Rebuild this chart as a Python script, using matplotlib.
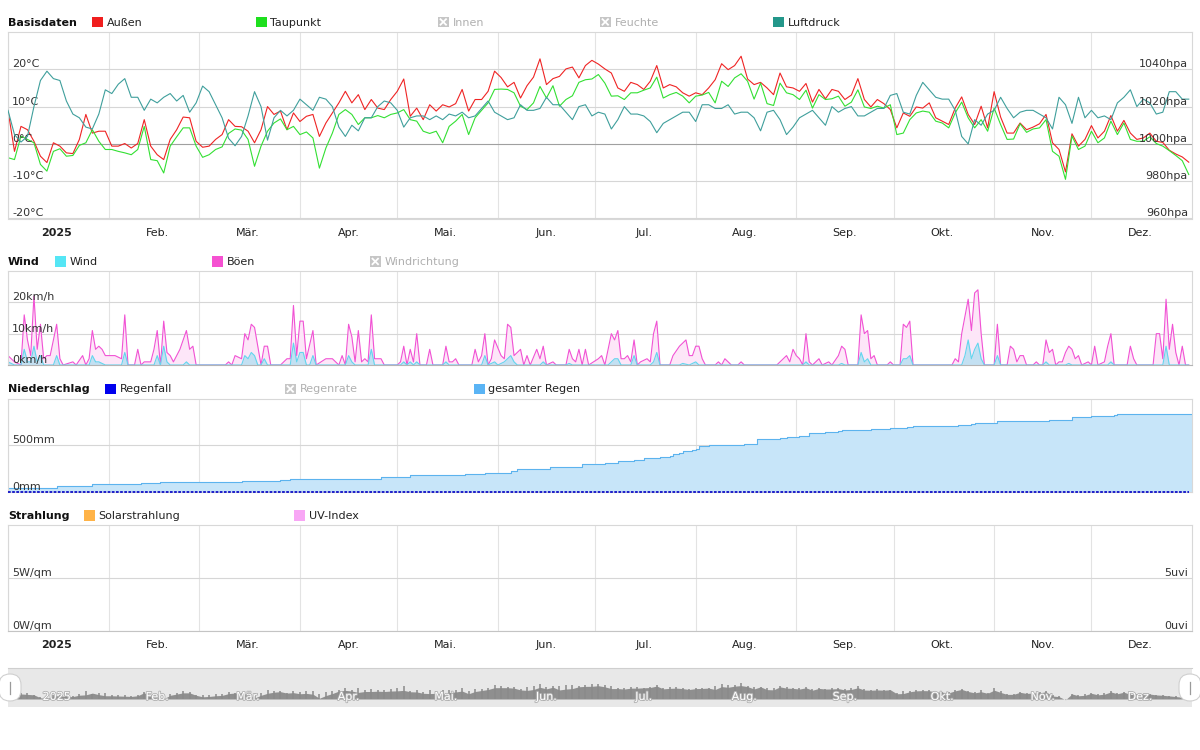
import numpy as np
import matplotlib.pyplot as plt
import matplotlib.transforms as mtransforms
import matplotlib.patheffects as pe
from matplotlib.patches import Rectangle, FancyBboxPatch

W, H = 1200, 750
plt.rcParams['font.family'] = 'DejaVu Sans'

# --- Wetterdaten 2025, x = Tag im Jahr (0 = 1. Jan.), ein Wert je 2 Tage ---
tage = np.arange(0, 365, 2)

aussen = [9, -2, 4.7, 3.8, 0.7, -3.3, -5, 0.3, -0.6, -2.4, -2.6, 1.2, 7.9, 2.9, 3.4, 3.4, -0.6, -0.6, 0.1, -1.1,
          0.1, 6.5, -0.6, -2.9, -4.2, 1.2, 3.8, 7.2, 7, 0.7, -0.9, -0.6, 1.2, 2.5, 6.5, 4.7, 4.6, 3.4, 0.3, 3.8,
          10, 7.9, 8.8, 3.8, 8.3, 6, 7.4, 7.9, 2, 5.6, 8.3, 11, 14.1, 11, 13.2, 9.2, 11.9, 9.6, 9.2, 11.9, 14.1,
          17.4, 7.4, 9.6, 6.5, 10.5, 8.8, 10.5, 9.9, 10.8, 14.6, 8.8, 11.9, 11.9, 14.1, 19.5, 17.8, 15.3, 16.5, 12.3, 15.6,
          17.9, 22.8, 15.9, 17.5, 18.1, 20.1, 20.6, 17.7, 21, 22.4, 21.4, 20.1, 19, 15, 14.1, 16.5, 15.9, 14.6, 16.8, 21,
          15, 15.9, 15.3, 13.7, 12.8, 13.7, 13.2, 15, 17.2, 21.5, 19.9, 21, 23.5, 17.4, 15.9, 16.5, 15, 13.2, 19, 15.3,
          15, 14.1,
          16.2, 11.2, 14.6, 12.1, 14.6, 14.1, 11.9, 13.1, 17.5, 11.9, 9.9, 11.9, 10.8, 9.2, 4.3, 8.3, 7.4, 9.9, 9.6, 11,
          7, 6.1, 5.2, 9.6, 12.6, 7.9, 5.2, 10.1, 4.3, 14, 7.2, 2.9, 2.9, 5.6, 3.8, 4.5, 5.4, 7.9, 0.3, -1.5,
          -7.5, 2.7, -0.6, 1.2, 4.9, 1.6, 3.4, 7.6, 3.4, 6.3, 2.9, 1.2, 1.6, 2.9, 0.7, 0.4, -1.7, -2.7, -3.5, -4.9]

taupunkt = [-3.7, -4.2, 2.1, 1.2, 0.3, -5.5, -7.3, -2, -1.3, -3.3, -3.1, -0.4, 0.3, 3.8, 0.7, -1.5, -1.5, -2, -2.4, -2.9,
            -1.5, 4.7, -4.2, -4.5, -7.8, -0.6, 1.9, 4.3, 4.3, -0.6, -3.6, -2.9, -1.5, -0.8, 2.8, 4, 3.7, 1.2, -6, -0.6,
            3.4, 5.6, 6.7, 3.8, 4.7, 2.5, 3.2, 1.6, -6.5, -1.1, 2.9, 7.9, 9.2, 7.9, 5.2, 7, 7, 7.6, 7, 7.9, 8.3,
            9.2, 6.5, 6.1, 3.4, 2.8, 3.4, 0.3, 4.7, 6.1, 7.9, 2.5, 7, 9, 11, 14.6, 14.7, 14.6, 13.7, 10.1, 9.2,
            11, 15.4, 12.3, 15.6, 10.1, 11.9, 12.9, 16.5, 17.2, 17.4, 18.6, 16.3, 12.8, 12.9, 11.9, 13.7, 13.7, 14.4, 15, 17.9,
            12.3, 13.2, 13.8, 12.8, 11, 12.8, 13.1, 13.8, 11, 16.8, 15.4, 17.7, 18.8, 16.8, 12, 16.3, 10.8, 10.3, 16.3, 13.7,
            13.2, 11.9,
            14.4, 9.6, 13.2, 11.9, 12.1, 12.8, 10.1, 11.2, 14.5, 9.9, 9.5, 10.1, 9.6, 10.5, 2.5, 2.9, 6.5, 8.3, 8.8, 8.5,
            6.1, 5.6, 4.3, 8.3, 11.2, 7, 4.3, 6.5, 3.4, 9.6, 5.2, 1.2, 1.3, 5.4, 3.1, 4, 4.3, 6.5, -2, -3.3,
            -9.5, 2.1, -1.5, -0.6, 3.4, 0.3, 1.6, 6.1, 2.5, 5.6, 1.2, 0.7, 0.7, 1.9, 0.1, -0.6, -1.8, -3.1, -4.5, -8.2]

luftdruck = [1018, 1005, 1001, 1004, 1020, 1034, 1039, 1035, 1034, 1023, 1016, 1014, 1009, 1008, 1016, 1029, 1027, 1032, 1035, 1025,
             1025, 1018, 1024, 1022, 1025, 1027, 1023, 1026, 1017, 1022, 1031, 1028, 1021, 1014, 1003, 999, 1004, 1015, 1028, 1020,
             1002, 1014, 1018, 1015, 1018, 1024, 1021, 1018, 1025, 1024, 1020, 1009, 1004, 1010, 1007, 1014, 1014, 1020, 1023, 1022, 1018,
             1009, 1014, 1015, 1015, 1013, 1015, 1013, 1016, 1015, 1017, 1014, 1015, 1019, 1023, 1017, 1015, 1013, 1014, 1021, 1018,
             1018, 1019, 1025, 1021, 1021, 1017, 1013, 1020, 1021, 1015, 1017, 1016, 1008, 1013, 1020, 1016, 1016, 1015, 1012, 1006,
             1011, 1013, 1015, 1017, 1017, 1012, 1021, 1021, 1019, 1019, 1021, 1016, 1017, 1017, 1014, 1007, 1017, 1018, 1013, 1005,
             1009, 1014,
             1016, 1018, 1014, 1010, 1020, 1017, 1019, 1020, 1015, 1015, 1017, 1019, 1019, 1026, 1027, 1017, 1016, 1026, 1033, 1029,
             1025, 1024, 1024, 1018, 1004, 1000, 1013, 1010, 1016, 1018, 1025, 1019, 1014, 1017, 1018, 1018, 1016, 1014, 1008, 1025,
             1021, 1011, 1025, 1014, 1018, 1014, 1015, 1013, 1022, 1025, 1029, 1020, 1024, 1022, 1016, 1017, 1028, 1028, 1024, 1024]

boeen_tag = [0, 2, 4, 5, 6, 7, 8, 9, 10, 11, 12, 13, 15, 16, 17, 20, 21, 23, 24, 25, 26, 27, 28, 29, 30, 32, 33, 35, 36, 37,
             39, 40, 41, 42, 44, 45, 46, 47, 48, 49, 50, 51, 52, 53, 55, 56, 57, 58, 67, 68, 69, 70, 72, 73, 74, 75, 76, 78, 79, 80,
             81, 84, 86, 87, 88, 89, 90, 91, 92, 94, 95, 98, 100, 102, 103, 104, 105, 106, 107, 108, 109, 110, 111, 112, 113, 115, 116, 120,
             121, 122, 123, 124, 125, 126, 127, 129, 130, 131, 134, 135, 136, 137, 138, 139, 143, 144, 145, 146,
             147, 148, 149, 150, 152, 153, 154, 155, 156, 158, 159, 160, 161, 163, 164, 165, 166, 168, 169, 172,
             173, 174, 175, 176, 177, 178, 179, 182, 183, 184, 186, 187, 188, 189, 190, 191, 192, 193, 194, 195,
             197, 198, 199, 200, 201, 204, 205, 207, 209, 210, 211, 212, 213, 214, 215, 218, 219, 220, 221, 222,
             223, 225, 226, 227, 237, 238, 240, 241, 242, 243,
             244, 245, 246, 247, 248, 250, 251, 253, 254, 256, 257, 258, 259, 262, 263, 264, 265, 266, 267, 268,
             271, 272, 273, 275, 276, 277, 278, 279, 291, 292, 293, 294, 296, 297, 298, 299, 300, 301, 304, 305,
             306, 308, 309, 310, 311, 312, 313, 314, 316, 317, 318, 319, 320, 321, 322, 323, 324, 325, 326, 327,
             328, 329, 330, 331, 333, 334, 335, 336, 338, 339, 340, 341, 345, 346, 347, 348, 353, 354, 355, 356,
             357, 358, 359, 360, 361, 362, 363, 364]
boeen = [3, 1, 0, 16, 8, 3, 22, 5, 13, 2, 3, 3, 13, 2, 0, 1, 0, 3, 0, 2, 11, 5, 6, 5, 3, 3, 3, 2, 16, 0,
         0, 5, 0, 1, 1, 5, 11, 0, 14, 4, 3, 1, 3, 5, 11, 5, 6, 0, 0, 1, 0, 3, 2, 10, 8, 13, 12, 0, 6, 6,
         0, 0, 2, 2, 19, 3, 14, 14, 2, 11, 0, 2, 2, 0, 3, 0, 13, 9, 1, 11, 1, 2, 1, 16, 2, 2, 0, 0,
         1, 6, 0, 5, 1, 10, 0, 0, 5, 0, 0, 6, 1, 1, 2, 0, 0, 5, 1, 3,
         10, 0, 2, 8, 3, 2, 13, 12, 3, 5, 0, 3, 0, 5, 2, 6, 0, 1, 0, 0,
         5, 2, 1, 5, 0, 5, 0, 2, 3, 0, 10, 8, 11, 2, 2, 3, 1, 8, 0, 1,
         2, 1, 10, 14, 0, 0, 3, 6, 8, 3, 3, 6, 6, 2, 0, 0, 1, 0, 2, 1,
         0, 0, 1, 0, 0, 1, 3, 1, 5, 3,
         2, 0, 10, 1, 0, 2, 0, 1, 0, 3, 6, 5, 0, 0, 16, 10, 11, 2, 3, 0,
         0, 1, 0, 0, 13, 12, 14, 0, 0, 2, 1, 10, 21, 11, 23, 24, 10, 0, 0, 13,
         0, 0, 6, 5, 1, 3, 3, 0, 0, 1, 0, 0, 8, 4, 5, 0, 1, 1, 4, 6,
         5, 2, 3, 0, 1, 0, 6, 0, 1, 6, 10, 0, 0, 6, 2, 0, 0, 10, 10, 2,
         21, 5, 13, 4, 0, 6, 0, 0]

wind_tag = [0, 2, 4, 5, 6, 7, 8, 9, 10, 11, 14, 15, 16, 25, 26, 27, 28, 30, 35, 36,
            37, 45, 46, 47, 48, 49, 50, 54, 55, 56, 72, 73, 74, 75, 76, 77, 78, 79, 80, 87,
            88, 89, 90, 91, 92, 93, 94, 95, 104, 105, 106, 107, 111, 112, 113,
            121, 122, 123, 124, 125, 126, 127, 134, 135, 136, 146, 147, 148, 150, 151, 153, 155, 156, 157, 164,
            165, 166, 172, 173, 174, 185, 186, 187, 188, 189, 192, 193, 194, 198, 199, 200, 201, 207, 208, 210,
            212, 213,
            245, 246, 247, 256, 257, 258, 262, 263, 264, 265, 266, 275, 276, 277, 278, 279, 294, 295, 296, 297,
            298, 299, 300, 301, 304, 305, 306, 319, 320, 321, 326, 327, 328, 339, 340, 341, 356, 357, 358, 364]
wind = [1, 0, 0, 5, 1, 1, 6, 1, 3, 0, 0, 3, 0, 0, 3, 1, 1, 0, 0, 4,
        0, 0, 3, 0, 6, 1, 0, 0, 1, 0, 0, 3, 2, 4, 3, 0, 0, 2, 0, 0,
        7, 1, 4, 4, 0, 0, 3, 0, 0, 3, 1, 0, 0, 5, 0,
        0, 1, 0, 1, 0, 1, 0, 0, 1, 0, 0, 3, 0, 1, 0, 1, 3, 1, 0, 0,
        1, 0, 0, 0.5, 0, 0, 1, 2, 2, 0, 0, 3, 0, 0, 1, 4, 0, 0, 0.5, 0,
        1, 0,
        0, 1, 0, 0, 0.5, 0, 0, 4, 1, 2, 0, 0, 2, 2, 3, 0, 0, 3, 8, 2,
        5, 7, 2, 0, 0, 3, 0, 0, 1, 0, 0, 0.5, 0, 0, 1, 0, 0, 6, 0, 0]

regen_tag = [0, 15, 26, 41, 47, 72, 84, 87, 115, 124, 141, 147, 155, 157, 167, 177, 184, 188, 193, 196,
             201, 204, 205, 207, 208, 211, 212, 213, 216, 227, 231, 238, 240, 244, 247, 252, 256, 257, 266, 272,
             277, 279, 293, 297, 298, 305, 321, 328, 334, 341, 342, 365]
regen_summe = [47, 61, 83, 94, 104, 122, 133, 144, 158, 180, 191, 202, 220, 241, 266, 295, 306, 328, 338, 360,
               371, 385, 407, 421, 436, 446, 461, 490, 500, 511, 565, 576, 587, 601, 630, 641, 652, 662, 673, 684,
               695, 706, 716, 727, 738, 760, 770, 803, 814, 824, 835, 835]
regenfall = np.zeros(len(tage))

monat_start = [0, 31, 59, 90, 120, 151, 181, 212, 243, 273, 304, 334]
monat_namen = ['2025', 'Feb.', 'Mär.', 'Apr.', 'Mai.', 'Jun.', 'Jul.', 'Aug.', 'Sep.', 'Okt.', 'Nov.', 'Dez.']

fig = plt.figure(figsize=(W / 100, H / 100), dpi=100)


def px_box(x0, y0, x1, y1):
    return [x0 / W, 1 - y1 / H, (x1 - x0) / W, (y1 - y0) / H]


def panel(y0, y1, ymin, ymax, yticks, labels=False):
    ax = fig.add_axes(px_box(8, y0, 1192, y1))
    ax.set_xlim(0, 365)
    ax.set_ylim(ymin, ymax)
    ax.set_xticks(monat_start)
    ax.set_xticklabels([])
    ax.set_yticks(yticks)
    ax.set_yticklabels([])
    ax.tick_params(which='both', length=0)
    ax.grid(axis='x', color='#e3e3e3', lw=0.8)
    ax.grid(axis='y', color='#d6d6d6', lw=0.8)
    ax.set_axisbelow(True)
    for s in ax.spines.values():
        s.set_color('#d8d8d8')
        s.set_linewidth(0.8)
    if labels:
        ax.set_xticks([m + 15 for m in monat_start], minor=True)
        ax.set_xticklabels(monat_namen, minor=True)
        ax.tick_params(axis='x', which='minor', pad=6.5, labelsize=8, labelcolor='#222222')
        ax.get_xticklabels(minor=True)[0].set_fontweight('bold')
    return ax


def twin(ax, ymin, ymax):
    t = ax.twinx()
    t.set_ylim(ymin, ymax)
    t.set_yticks([])
    for s in t.spines.values():
        s.set_visible(False)
    return t


def ylab(ax, vals, texts, right=False):
    tr = mtransforms.offset_copy(ax.get_yaxis_transform(), fig=fig,
                                 x=-4 if right else 4, y=2, units='dots')
    for v, t in zip(vals, texts):
        ax.text(1 if right else 0, v, t, transform=tr, ha='right' if right else 'left',
                va='baseline', fontsize=8, color='#333333', zorder=6)


# Basisdaten
ax1 = panel(32, 218.5, -20, 30, [-20, -10, 0, 10, 20], labels=True)
ax1.get_ygridlines()[2].set_color('#a0a0a0')
ax1.plot(tage, aussen, color='#ef2424', lw=0.8)
ax1.plot(tage, taupunkt, color='#33e033', lw=0.8)
ylab(ax1, [20, 10, 0, -10, -20], ['20°C', '10°C', '0°C', '-10°C', '-20°C'])
axp = twin(ax1, 960, 1060)
axp.plot(tage, luftdruck, color='#3f9f9c', lw=0.8)
ylab(axp, [1040, 1020, 1000, 980, 960], ['1040hpa', '1020hpa', '1000hpa', '980hpa', '960hpa'], right=True)

# Wind
ax2 = panel(271, 365, 0, 30, [0, 10, 20])
ax2.spines['bottom'].set_color('#b4b4b4')
ax2.fill_between(boeen_tag, boeen, color='#fde6f8', lw=0)
ax2.plot(boeen_tag, boeen, color='#f152d4', lw=0.8)
ax2.fill_between(wind_tag, wind, color='#c3e0f2', lw=0)
ax2.plot(wind_tag, wind, color='#62d6ee', lw=0.8)
ylab(ax2, [20, 10, 0], ['20km/h', '10km/h', '0km/h'])

# Niederschlag
ax3 = panel(398.5, 492, 0, 1000, [0, 500])
ax3.fill_between(regen_tag, regen_summe, step='post', color='#c7e5f9', lw=0)
ax3.step(regen_tag, regen_summe, where='post', color='#5cb3ee', lw=0.8)
ax3.plot(tage, regenfall, color='#1010c8', lw=1.3, ls=(0, (1.5, 0.8)), clip_on=False, zorder=5)
ylab(ax3, [500, 0], ['500mm', '0mm'])

# Strahlung (keine Werte)
ax4 = panel(525, 631, 0, 10, [0, 5], labels=True)
ax4.spines['bottom'].set_color('#c4c4c4')
ylab(ax4, [5, 0], ['5W/qm', '0W/qm'])
axu = twin(ax4, 0, 10)
ylab(axu, [5, 0], ['5uvi', '0uvi'], right=True)

# Navigator
nav = fig.add_axes(px_box(8, 668, 1192, 707))
nav.set_xlim(0, 365)
nav.set_ylim(-24, 54)
nav.set_facecolor('#e8e8e8')
nav.set_xticks([])
nav.set_yticks([])
for s in nav.spines.values():
    s.set_visible(False)
nav.spines['top'].set_visible(True)
nav.spines['top'].set_color('#cfcfcf')
nav.fill_between(tage, -8, taupunkt, color='#8f8f8f', lw=0)
nav.vlines(tage, -8, aussen, color='#8a8a8a', lw=1.1)
for m, n in zip(monat_start, monat_namen):
    nav.text(m + 15, -4, n, ha='center', va='center', fontsize=8, color='white',
             path_effects=[pe.withStroke(linewidth=1.2, foreground='#b0b0b0')])

# Ueberschriften, Legenden, Navigator-Griffe
ov = fig.add_axes([0, 0, 1, 1], zorder=10)
ov.set_xlim(0, W)
ov.set_ylim(H, 0)
ov.axis('off')

kopf = [
    (21.5, 'Basisdaten', [('Außen', '#f01e1e', 92), ('Taupunkt', '#1edf1e', 256), ('Innen', None, 438),
                          ('Feuchte', None, 600), ('Luftdruck', '#23978a', 773)]),
    (261, 'Wind', [('Wind', '#55e6f5', 55), ('Böen', '#f551d1', 212), ('Windrichtung', None, 370)]),
    (388.5, 'Niederschlag', [('Regenfall', '#0000ee', 105), ('Regenrate', None, 285),
                             ('gesamter Regen', '#5ab4f5', 474)]),
    (515, 'Strahlung', [('Solarstrahlung', '#ffb347', 84), ('UV-Index', '#f8a6f5', 294)]),
]
for y, titel, items in kopf:
    ov.text(8, y, titel, fontsize=8, fontweight='bold', color='#111111', va='center_baseline', ha='left')
    for name, col, x in items:
        if col:
            ov.add_patch(Rectangle((x, y - 5), 10.5, 10.5, facecolor=col, edgecolor='none'))
            tc = '#222222'
        else:
            ov.add_patch(Rectangle((x, y - 5), 10.5, 10.5, facecolor='#c6c6c6', edgecolor='none'))
            ov.plot([x + 2.5, x + 8], [y - 2.3, y + 3.2], color='white', lw=1.3)
            ov.plot([x + 2.5, x + 8], [y + 3.2, y - 2.3], color='white', lw=1.3)
            tc = '#b0b0b0'
        ov.text(x + 14.5, y, name, fontsize=8, color=tc, va='center_baseline', ha='left')

for hx in (-1, 1179):
    ov.add_patch(FancyBboxPatch((hx, 674), 22, 27, boxstyle='round,pad=0,rounding_size=11',
                                facecolor='white', edgecolor='#d0d0d0', lw=0.8))
    ov.plot([hx + 10.5, hx + 10.5], [682, 694], color='#9a9a9a', lw=0.9)

fig.savefig('out.png', dpi=100)
